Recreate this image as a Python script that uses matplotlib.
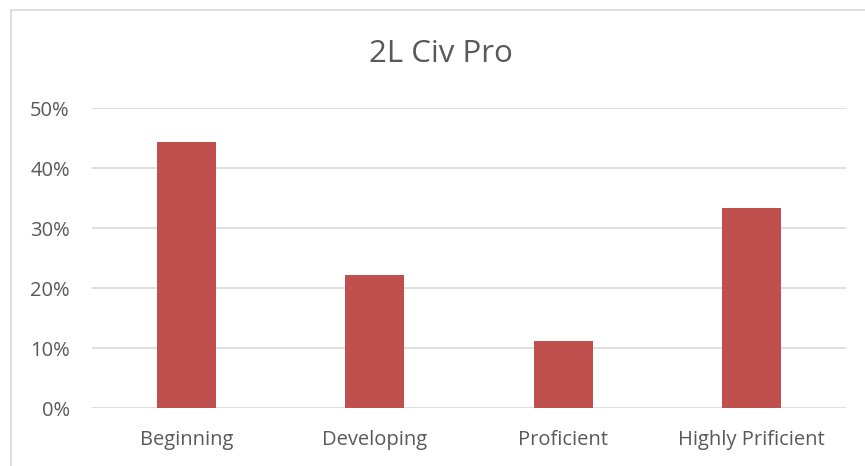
import matplotlib.pyplot as plt
from matplotlib.lines import Line2D
from matplotlib.ticker import PercentFormatter

categories = ['Beginning', 'Developing', 'Proficient', 'Highly Prificient']
shares = [0.444, 0.222, 0.111, 0.333]
y_ticks = [0.0, 0.1, 0.2, 0.3, 0.4, 0.5]

plt.rcParams['font.family'] = ['Open Sans', 'DejaVu Sans']
text_color = '#595959'
grid_color = '#D9D9D9'

fig = plt.figure(figsize=(8.65, 4.66), dpi=100)
ax = fig.add_axes([92 / 865, 1 - 408 / 466, (846 - 92) / 865, 300 / 466])

ax.bar(range(len(categories)), shares, width=0.315, color='#C0504D', zorder=3)
ax.set_xlim(-0.5, len(categories) - 0.5)
ax.set_ylim(0, 0.5)
ax.set_yticks(y_ticks)
ax.yaxis.set_major_formatter(PercentFormatter(1.0, decimals=0))
ax.set_xticks(range(len(categories)))
ax.set_xticklabels(categories)

ax.grid(axis='y', color=grid_color, linewidth=1.2, zorder=0)
for side in ['top', 'right', 'left', 'bottom']:
    ax.spines[side].set_visible(False)
ax.tick_params(axis='both', length=0, labelsize=14.5, colors=text_color)
ax.tick_params(axis='y', pad=16)
ax.tick_params(axis='x', pad=16)

fig.text(441 / 865, 1 - 54 / 466, '2L Civ Pro', ha='center', va='center',
         fontsize=22.5, color=text_color)

# chart border (only top and left edges fall inside the picture)
fig.add_artist(Line2D([10.5 / 865, 10.5 / 865], [0, 1 - 9.5 / 466],
                      transform=fig.transFigure, color=grid_color, linewidth=1.2))
fig.add_artist(Line2D([10.5 / 865, 1], [1 - 9.5 / 466, 1 - 9.5 / 466],
                      transform=fig.transFigure, color=grid_color, linewidth=1.2))

fig.savefig('out.png', dpi=100)
